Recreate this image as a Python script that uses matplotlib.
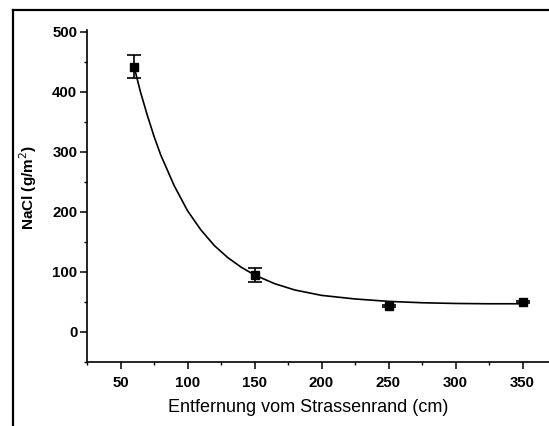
import matplotlib.pyplot as plt
from matplotlib.lines import Line2D
from matplotlib.ticker import MultipleLocator

# Messpunkte (Mittelwert +/- Fehler)
entfernung = [60, 150, 250, 350]
nacl = [442, 95, 43, 50]
fehler = [19, 12, 2, 2]

# Angepasste Kurve
kurve_x = [60, 65, 70, 75, 80, 90, 100, 110, 120, 130, 140, 150, 165, 180,
           200, 225, 250, 275, 300, 325, 350]
kurve_y = [443, 399, 361, 326, 295, 244, 202, 170, 144, 124, 108, 95, 80.5, 70,
           61, 55, 51, 48.7, 47.5, 47, 47]

W, H = 549, 426
fig = plt.figure(figsize=(W / 100, H / 100), dpi=100)
plt.rcParams['font.family'] = ['Liberation Sans', 'DejaVu Sans']

# Achsen in Pixeln: links 87, oben 30, unten 362, rechts ueber den Rand hinaus
x0, x1 = 25, 375
px_per = 1.34
ax = fig.add_axes([87 / W, 1 - 362 / H, (x1 - x0) * px_per / W, (362 - 30) / H])

ax.errorbar(entfernung, nacl, yerr=fehler, fmt='s', color='black', ms=5.5,
            capsize=4.7, elinewidth=1.2, capthick=1.2, zorder=3)
ax.plot(kurve_x, kurve_y, color='black', lw=1.2)

ax.set_xlim(x0, x1)
ax.set_ylim(-50, 503)
ax.xaxis.set_major_locator(MultipleLocator(50))
ax.xaxis.set_minor_locator(MultipleLocator(25))
ax.yaxis.set_major_locator(MultipleLocator(100))
ax.yaxis.set_minor_locator(MultipleLocator(50))
ax.set_xticks([50, 100, 150, 200, 250, 300, 350])

for s in ['top', 'right']:
    ax.spines[s].set_visible(False)
for s in ['left', 'bottom']:
    ax.spines[s].set_linewidth(1.2)

ax.tick_params(which='major', direction='out', length=5, width=1.1,
               labelsize=10.8)
ax.tick_params(which='minor', direction='out', length=2.2, width=1.0)
ax.tick_params(axis='y', pad=2)
ax.tick_params(axis='x', pad=5)
for lab in ax.get_xticklabels() + ax.get_yticklabels():
    lab.set_fontweight('bold')

fig.text(308 / W, 1 - 407 / H, 'Entfernung vom Strassenrand (cm)',
         ha='center', va='center', fontsize=13)
fig.text(28 / W, 1 - 188 / H, 'NaCl (g/m$^2$)', rotation=90,
         ha='center', va='center', fontsize=11, fontweight='bold')

# Rahmen des Scans
fig.add_artist(Line2D([12.5 / W, 12.5 / W], [0, 1 - 10 / H],
                      transform=fig.transFigure, color='black', lw=1.6))
fig.add_artist(Line2D([12.5 / W, 1], [1 - 10 / H, 1 - 10 / H],
                      transform=fig.transFigure, color='black', lw=1.6))

fig.savefig('out.png', dpi=100)
